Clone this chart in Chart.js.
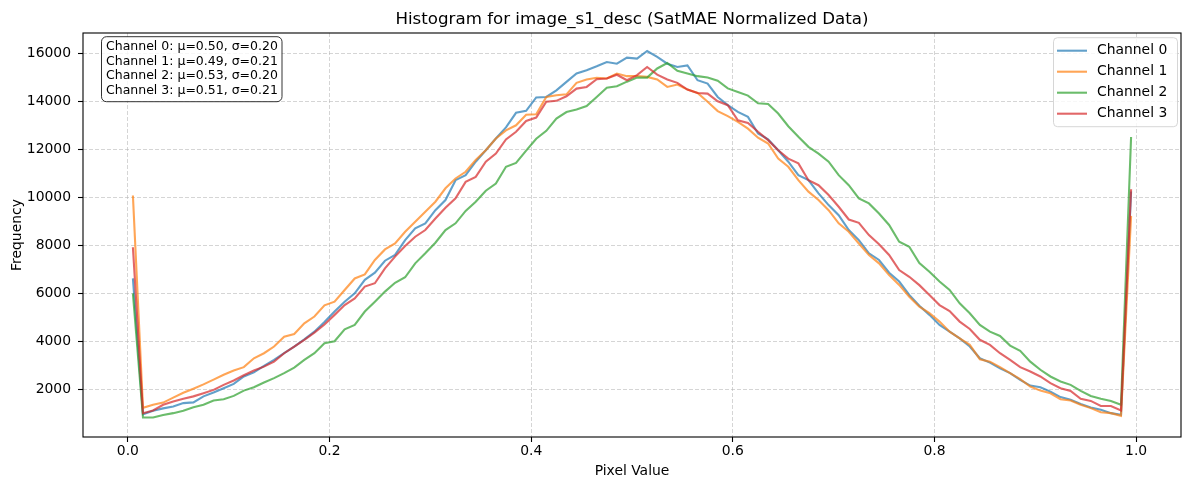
<!DOCTYPE html>
<html>
<head>
<meta charset="utf-8">
<script src="https://cdn.jsdelivr.net/npm/chart.js@4.4.0/dist/chart.umd.min.js"></script>
<style>
html,body{margin:0;padding:0;background:#ffffff;}
#wrap{width:1189px;height:490px;position:relative;}
</style>
</head>
<body>
<div id="wrap"><canvas id="c"></canvas></div>
<script>
const binCenters = [0.005,0.015,0.025,0.035,0.045,0.055,0.065,0.075,0.085,0.095,
0.105,0.115,0.125,0.135,0.145,0.155,0.165,0.175,0.185,0.195,
0.205,0.215,0.225,0.235,0.245,0.255,0.265,0.275,0.285,0.295,
0.305,0.315,0.325,0.335,0.345,0.355,0.365,0.375,0.385,0.395,
0.405,0.415,0.425,0.435,0.445,0.455,0.465,0.475,0.485,0.495,
0.505,0.515,0.525,0.535,0.545,0.555,0.565,0.575,0.585,0.595,
0.605,0.615,0.625,0.635,0.645,0.655,0.665,0.675,0.685,0.695,
0.705,0.715,0.725,0.735,0.745,0.755,0.765,0.775,0.785,0.795,
0.805,0.815,0.825,0.835,0.845,0.855,0.865,0.875,0.885,0.895,
0.905,0.915,0.925,0.935,0.945,0.955,0.965,0.975,0.985,0.995];

const channel0 = [6620,950,1100,1200,1280,1420,1450,1700,1860,2040,
2220,2530,2700,2970,3220,3500,3780,4080,4400,4800,
5240,5650,6000,6560,6860,7360,7600,8220,8710,8920,
9470,9890,10720,10930,11490,11970,12460,12920,13530,13610,
14170,14190,14470,14820,15170,15310,15470,15650,15580,15830,
15790,16110,15860,15580,15440,15510,14890,14750,14190,13850,
13570,13360,12670,12420,11970,11490,10930,10720,10170,9680,
9260,8640,8220,7670,7390,6860,6490,5930,5480,5100,
4680,4400,4120,3780,3290,3110,2870,2670,2390,2150,
2080,1900,1670,1560,1380,1240,1140,1000,930,10250];

const channel1 = [10080,1220,1350,1440,1650,1850,2020,2200,2400,2600,
2780,2920,3290,3500,3780,4190,4300,4750,5030,5500,
5650,6140,6620,6790,7390,7830,8080,8570,8990,9400,
9820,10380,10790,11070,11560,11970,12460,12800,13010,13450,
13470,14190,14260,14300,14780,14920,14990,14960,15170,15060,
15060,15030,14920,14610,14710,14500,14360,13990,13600,13390,
13150,12870,12490,12250,11620,11280,10720,10240,9890,9470,
8920,8570,8080,7600,7250,6760,6350,5860,5440,5170,
4820,4400,4120,3850,3250,3150,2920,2670,2420,2110,
1940,1830,1580,1530,1350,1210,1040,1000,890,9230];

const channel2 = [6000,820,820,920,1000,1100,1250,1350,1530,1580,
1720,1940,2080,2280,2460,2670,2900,3220,3500,3920,
4000,4500,4680,5240,5650,6070,6440,6670,7250,7670,
8110,8640,8920,9440,9820,10280,10580,11280,11440,11950,
12450,12780,13290,13560,13670,13810,14190,14580,14640,14830,
15000,15000,15380,15610,15280,15170,15060,15000,14870,14550,
14400,14250,13930,13900,13500,12970,12530,12110,11830,11490,
10930,10510,9960,9750,9330,8850,8150,7940,7260,6900,
6490,6140,5580,5170,4680,4400,4220,3820,3600,3150,
2810,2530,2320,2180,1930,1720,1600,1510,1350,12520];

const channel3 = [7920,1000,1110,1350,1490,1600,1700,1830,1970,2180,
2360,2580,2780,2940,3150,3500,3780,4060,4360,4700,
5100,5510,5790,6280,6420,7040,7530,7970,8360,8640,
9120,9570,9960,10650,10860,11490,11830,12420,12740,13190,
13330,13990,14030,14220,14540,14610,14930,14960,15120,14890,
15100,15440,15120,14920,14780,14500,14360,14330,14010,13850,
13220,13110,12740,12390,11970,11620,11420,10720,10510,10100,
9610,9080,8940,8430,8050,7600,6970,6690,6340,5930,
5510,5260,4820,4510,4060,3850,3500,3220,2920,2740,
2530,2250,2040,1930,1600,1510,1300,1300,1110,10340];

const seriesLabels = ['Channel 0','Channel 1','Channel 2','Channel 3'];
const channelMeans = [0.50,0.49,0.53,0.51];
const channelStds = [0.20,0.21,0.20,0.21];
const xTickValues = [0.0,0.2,0.4,0.6,0.8,1.0];
const yTickValues = [2000,4000,6000,8000,10000,12000,14000,16000];
const chartTitle = 'Histogram for image_s1_desc (SatMAE Normalized Data)';
const xAxisLabel = 'Pixel Value';
const yAxisLabel = 'Frequency';

const seriesValues = [channel0, channel1, channel2, channel3];
const seriesColors = ['rgba(31,119,180,0.7)','rgba(255,127,14,0.7)','rgba(44,160,44,0.7)','rgba(214,39,40,0.7)'];
const FONT = '"DejaVu Sans", "Liberation Sans", sans-serif';

function roundRect(ctx, x, y, w, h, r) {
  ctx.beginPath();
  ctx.moveTo(x + r, y);
  ctx.lineTo(x + w - r, y);
  ctx.arcTo(x + w, y, x + w, y + r, r);
  ctx.lineTo(x + w, y + h - r);
  ctx.arcTo(x + w, y + h, x + w - r, y + h, r);
  ctx.lineTo(x + r, y + h);
  ctx.arcTo(x, y + h, x, y + h - r, r);
  ctx.lineTo(x, y + r);
  ctx.arcTo(x, y, x + r, y, r);
  ctx.closePath();
}

const decorPlugin = {
  id: 'decor',
  afterDatasetsDraw(chart) {
    const ctx = chart.ctx;
    const a = chart.chartArea;
    ctx.save();
    ctx.setLineDash([]);
    // frame
    ctx.strokeStyle = '#000';
    ctx.lineWidth = 1.1;
    ctx.strokeRect(a.left, a.top, a.right - a.left, a.bottom - a.top);
    // title
    ctx.fillStyle = '#000';
    ctx.font = '16.67px ' + FONT;
    ctx.textAlign = 'center';
    ctx.textBaseline = 'alphabetic';
    ctx.fillText(chartTitle, (a.left + a.right) / 2, 23.5);

    // stats box
    const sx = a.left + 18.5, sy = a.top + 3.7;
    const sw = 180.5, sh = 65;
    roundRect(ctx, sx, sy, sw, sh, 5);
    ctx.fillStyle = 'rgba(255,255,255,0.8)';
    ctx.fill();
    ctx.strokeStyle = 'rgba(0,0,0,0.8)';
    ctx.lineWidth = 1;
    ctx.stroke();
    ctx.fillStyle = '#000';
    ctx.font = '12.5px ' + FONT;
    ctx.textAlign = 'left';
    ctx.textBaseline = 'middle';
    for (let i = 0; i < seriesLabels.length; i++) {
      const t = seriesLabels[i] + ': \u03bc=' + channelMeans[i].toFixed(2) + ', \u03c3=' + channelStds[i].toFixed(2);
      ctx.fillText(t, sx + 4.5, sy + 10.3 + i * 14.5);
    }

    // legend
    const lx = 1053.5, ly = 37.7, lw = 124, lh = 89;
    roundRect(ctx, lx, ly, lw, lh, 4);
    ctx.fillStyle = 'rgba(255,255,255,0.8)';
    ctx.fill();
    ctx.strokeStyle = 'rgba(204,204,204,0.8)';
    ctx.lineWidth = 1;
    ctx.stroke();
    ctx.font = '13.9px ' + FONT;
    ctx.textBaseline = 'middle';
    for (let i = 0; i < seriesLabels.length; i++) {
      const yy = 50.7 + i * 21;
      ctx.strokeStyle = seriesColors[i];
      ctx.lineWidth = 2.1;
      ctx.beginPath();
      ctx.moveTo(1057, yy);
      ctx.lineTo(1087, yy);
      ctx.stroke();
      ctx.fillStyle = '#000';
      ctx.fillText(seriesLabels[i], 1097, yy);
    }
    ctx.restore();
  }
};

const datasets = seriesValues.map((vals, k) => ({
  label: seriesLabels[k],
  data: binCenters.map((x, i) => ({ x: x, y: vals[i] })),
  borderColor: seriesColors[k],
  backgroundColor: seriesColors[k],
  borderWidth: 2.1,
  pointRadius: 0,
  pointHoverRadius: 0,
  tension: 0,
  fill: false,
  order: seriesLabels.length - 1 - k
}));

const gridCommon = {
  color: 'rgba(176,176,176,0.6)',
  lineWidth: 0.9,
  drawTicks: true,
  tickLength: 5,
  tickColor: '#000',
  tickWidth: 1.1,
  tickBorderDash: [10, 0]
};
const borderCommon = { display: false, dash: [4, 2] };

new Chart(document.getElementById('c'), {
  type: 'line',
  data: { datasets: datasets },
  plugins: [decorPlugin],
  options: {
    responsive: true,
    maintainAspectRatio: false,
    animation: false,
    events: [],
    layout: { padding: { top: 33, right: 8, left: 0, bottom: 0 } },
    plugins: {
      legend: { display: false },
      title: { display: false },
      tooltip: { enabled: false }
    },
    scales: {
      x: {
        type: 'linear',
        min: -0.0445,
        max: 1.0445,
        afterBuildTicks: s => { s.ticks = xTickValues.map(v => ({ value: v })); },
        afterFit: s => { s.height = 53; },
        ticks: {
          autoSkip: false,
          maxRotation: 0,
          padding: 1,
          color: '#000',
          font: { family: FONT, size: 13.9 },
          callback: v => Number(v).toFixed(1)
        },
        grid: gridCommon,
        border: borderCommon,
        title: {
          display: true,
          text: xAxisLabel,
          color: '#000',
          font: { family: FONT, size: 13.9 },
          padding: { top: 0, bottom: 10 }
        }
      },
      y: {
        type: 'linear',
        min: 5,
        max: 16860,
        afterBuildTicks: s => { s.ticks = yTickValues.map(v => ({ value: v })); },
        afterFit: s => { s.width = 83; },
        ticks: {
          padding: 7,
          color: '#000',
          font: { family: FONT, size: 13.9 },
          callback: v => String(v)
        },
        grid: gridCommon,
        border: borderCommon,
        title: {
          display: true,
          text: yAxisLabel,
          color: '#000',
          font: { family: FONT, size: 13.9 },
          padding: { top: 9, bottom: 0 }
        }
      }
    }
  }
});
</script>
</body>
</html>
